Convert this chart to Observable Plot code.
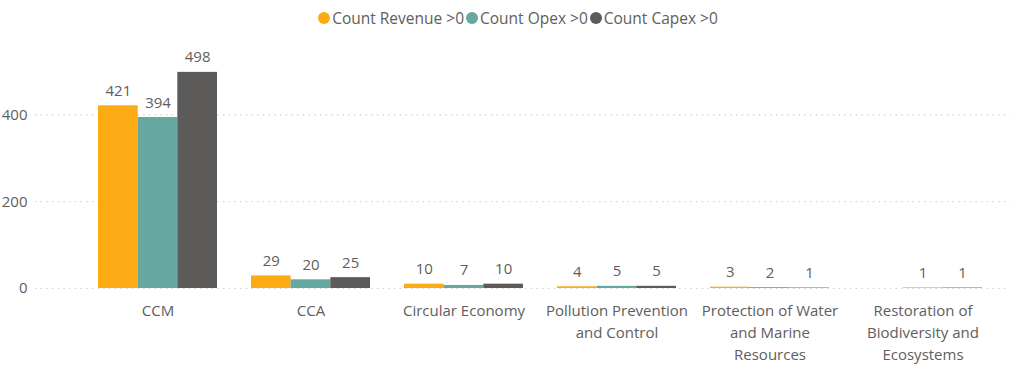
<!DOCTYPE html>
<html>
<head>
<meta charset="utf-8">
<script src="https://cdn.jsdelivr.net/npm/d3@7"></script>
<script src="https://cdn.jsdelivr.net/npm/@observablehq/plot@0.6"></script>
<style>
  html, body { margin: 0; padding: 0; background: #fff; }
  body { width: 1020px; height: 366px; overflow: hidden; font-family: "Segoe UI", "Open Sans", "Noto Sans", sans-serif; }
  #legend { height: 36px; display: flex; justify-content: center; align-items: center; padding-left: 16px; box-sizing: border-box; font-size: 15.5px; color: #605E5C; }
  .item { display: flex; align-items: center; margin: 0 1px; }
  .dot { width: 12px; height: 12px; border-radius: 50%; margin-right: 2px; }
</style>
</head>
<body>
<div id="legend"></div>
<div id="chart"></div>
<script>
const categories = ["CCM", "CCA", "Circular Economy", "Pollution Prevention\nand Control", "Protection of Water\nand Marine\nResources", "Restoration of\nBiodiversity and\nEcosystems"];
const seriesNames = ["Count Revenue >0", "Count Opex >0", "Count Capex >0"];
const revenue = [421, 29, 10, 4, 3, 0];
const opex = [394, 20, 7, 5, 2, 1];
const capex = [498, 25, 10, 5, 1, 1];
const yTicks = [0, 200, 400];
const colors = ["#FCAB14", "#66A8A0", "#5D5B59"];

const seriesValues = [revenue, opex, capex];
const data = [];
seriesValues.forEach((vals, s) => vals.forEach((v, i) => data.push({category: categories[i], series: seriesNames[s], s, value: v})));

// legend
const legend = document.getElementById("legend");
seriesNames.forEach((name, i) => {
  const it = document.createElement("div");
  it.className = "item";
  it.innerHTML = `<span class="dot" style="background:${colors[i]}"></span><span>${name}</span>`;
  legend.appendChild(it);
});

const width = 1020, height = 330;
const marginLeft = 35, marginRight = 10, marginTop = 35, marginBottom = 78;
const paddingInner = 0.224, paddingOuter = 0.292;
const W = width - marginLeft - marginRight;
const step = W / (categories.length - paddingInner + 2 * paddingOuter);
const sub = step * (1 - paddingInner) / 3;
const font = "'Segoe UI', 'Open Sans', 'Noto Sans', sans-serif";

const marks = [
  Plot.ruleY(yTicks, {stroke: "#C8C8C8", strokeDasharray: "1.2,4.5", strokeWidth: 1.2})
];
seriesNames.forEach((name, s) => {
  const d = data.filter(r => r.s === s);
  marks.push(Plot.barY(d, {
    x: "category", y: "value", fill: colors[s],
    insetLeft: s * sub, insetRight: (2 - s) * sub
  }));
  marks.push(Plot.text(d.filter(r => r.value > 0), {
    x: "category", y: "value", text: r => String(r.value),
    dx: (s - 1) * sub, dy: -10, lineAnchor: "bottom",
    fill: "#605E5C", fontSize: 15
  }));
});
marks.push(Plot.text(categories, {
  x: d => d, y: () => 0, text: d => d, lineAnchor: "top", dy: 12,
  fill: "#605E5C", fontSize: 15, lineHeight: 1.47
}));

const chart = Plot.plot({
  width, height, marginLeft, marginRight, marginTop, marginBottom,
  style: {fontFamily: font, fontSize: "15px", color: "#605E5C", background: "#fff"},
  x: {domain: categories, paddingInner, paddingOuter, align: 0.69, axis: null},
  y: {domain: [0, 500], ticks: yTicks, tickSize: 0, tickPadding: 8, label: null, tickFormat: d => String(d)},
  marks
});
document.getElementById("chart").appendChild(chart);
</script>
</body>
</html>
